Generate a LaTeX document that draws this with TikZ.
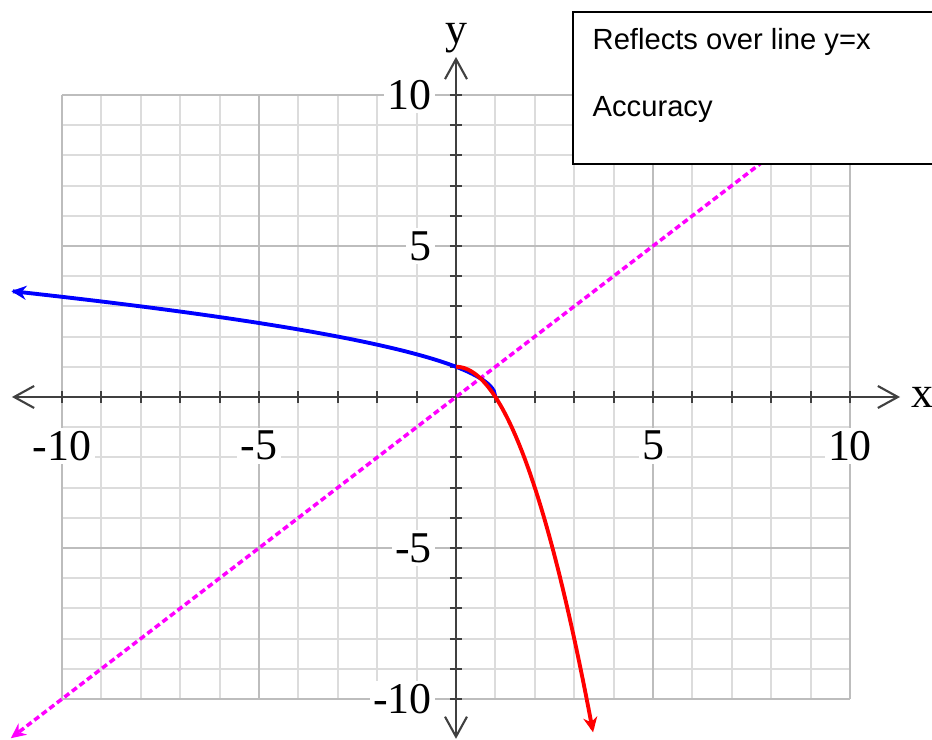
\documentclass[tikz,border=0pt]{standalone}
\usepackage{tikz}
\usetikzlibrary{positioning,arrows}
\usetikzlibrary{arrows.meta}
\usepackage{fontspec}
\newfontfamily\numfont{Liberation Serif}
\newfontfamily\boxfont{Liberation Sans}
\definecolor{minorgray}{HTML}{DCDCDC}
\definecolor{majorgray}{HTML}{BDBDBD}
\definecolor{axisgray}{HTML}{404040}
\definecolor{linemagenta}{HTML}{FF00FF}
\definecolor{curveblue}{HTML}{0000FF}
\definecolor{curvered}{HTML}{FF0000}

\begin{document}
\begin{tikzpicture}[>=stealth, x=0.394cm, y=0.302cm,
	minorgrid/.style={minorgray, line width=0.6pt},
	majorgrid/.style={majorgray, line width=0.6pt},
	axisline/.style={axisgray, line width=0.6pt,
		{Straight Barb[length=0.2cm,width=0.22cm]}-{Straight Barb[length=0.2cm,width=0.22cm]}},
	ticklabel/.style={font=\numfont\fontsize{12.5pt}{14pt}\selectfont, fill=white, inner sep=1pt},
	curve/.style={line width=1.1pt, -{Stealth[length=0.15cm,width=0.14cm]}},
	legendbox/.style={draw, fill=white, line width=0.6pt, minimum width=4cm,
		minimum height=1.52cm, anchor=north west},
	legendtext/.style={font=\boxfont\fontsize{8.3pt}{10pt}\selectfont, inner sep=0pt, anchor=base west}]
				\useasboundingbox (-4.56cm,-3.43cm) rectangle (4.76cm,3.97cm);
				
				% grid
				\draw[minorgrid] (-10,-10) grid[step=1] (10,10);
				\draw[majorgrid] (-10,-10) grid[step=5] (10,10);
				
				% axes
				\coordinate (xmin) at (-11.27,0);
				\coordinate (xmax) at (11.27,0);
				\coordinate (ymin) at (0,-11.32);
				\coordinate (ymax) at (0,11.26);
				\draw[axisline] (xmin) -- (xmax);
				\draw[axisline] (ymin) -- (ymax);
				\foreach \i in {-10,...,10}{
					\draw[axisgray, line width=0.6pt] (\i,0) ++(0,-0.06cm) -- ++(0,0.12cm);
					\draw[axisgray, line width=0.6pt] (0,\i) ++(-0.06cm,0) -- ++(0.12cm,0);
			}
				\node[ticklabel, right=2pt of xmax, fill=none] (xlab) {x};
				\node[ticklabel, above=0pt of ymax, fill=none] (ylab) {y};
				\foreach \i in {-10,-5,5,10}{
					\node[ticklabel, anchor=north] (xl\i) at ([yshift=-0.3cm]\i,0) {\i};
					\node[ticklabel, anchor=east] (yl\i) at ([xshift=-0.2cm]0,\i) {\i};
			}
				
				% y = x
				\coordinate (dstart) at (12,12);
				\coordinate (dend) at (-11.3,-11.3);
				\draw[linemagenta, line width=1pt, dash pattern=on 0.06cm off 0.035cm,
					-{Stealth[length=0.15cm,width=0.14cm]}] (dstart) -- (dend);
				
				% the two curves
				\draw[curveblue, curve] plot[domain=1:-11.29, samples=300, smooth]
					(\x,{sqrt(max(0,1-\x))});
				\draw[curvered, curve] plot[domain=0:3.48, samples=120, smooth]
					(\x,{1-\x*\x});
				
				% legend
				\node[legendbox] (legend) at (1.16cm,3.86cm) {};
				\node[legendtext] (reflect) at ([shift={(0.2cm,-0.39cm)}]legend.north west) {Reflects over line y=x};
				\node[legendtext] (accuracy) at ([yshift=-0.67cm]reflect.base west) {Accuracy};
\end{tikzpicture}
\end{document}
